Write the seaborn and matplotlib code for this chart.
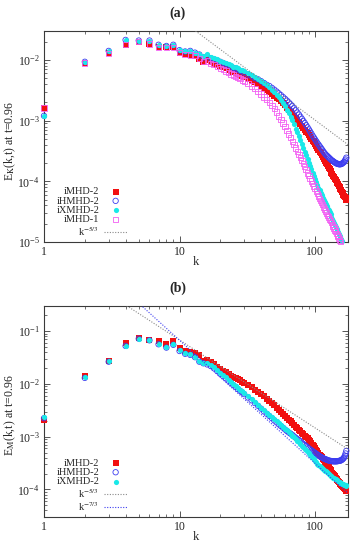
import numpy as np
import pandas as pd
import matplotlib
matplotlib.use("Agg")
import matplotlib.pyplot as plt
from matplotlib.ticker import NullFormatter
import seaborn as sns

# ==========================================
# DATA
# ==========================================
# wavenumbers: every k up to 30, then every 2nd k up to 170
K = list(range(1, 31)) + list(range(32, 171, 2))

# panel (a): kinetic energy spectra E_K(k, t=0.96)
EK_IMHD2 = [1.62e-3, 8.91e-3, 1.29e-2, 1.78e-2, 2.00e-2, 1.82e-2, 1.62e-2, 1.62e-2, 1.62e-2, 1.32e-2,
            1.23e-2, 1.20e-2, 1.18e-2, 1.05e-2, 9.12e-3, 1.00e-2, 9.12e-3, 8.71e-3, 8.32e-3, 7.94e-3,
            7.59e-3, 7.24e-3, 6.92e-3, 6.61e-3, 6.38e-3, 6.17e-3, 5.89e-3, 5.69e-3, 5.50e-3, 5.25e-3,
            4.90e-3, 4.57e-3, 4.27e-3, 3.98e-3, 3.72e-3, 3.39e-3, 3.16e-3, 2.95e-3, 2.75e-3, 2.57e-3,
            2.40e-3, 2.26e-3, 2.11e-3, 1.95e-3, 1.78e-3, 1.62e-3,
            1.48e-3, 1.38e-3, 1.29e-3, 1.19e-3, 1.10e-3, 1.02e-3, 9.55e-4, 8.81e-4, 8.13e-4, 7.59e-4,
            7.08e-4, 6.61e-4, 6.17e-4, 5.75e-4, 5.37e-4, 5.01e-4, 4.68e-4, 4.42e-4, 4.17e-4, 3.89e-4,
            3.59e-4, 3.31e-4, 3.09e-4, 2.88e-4, 2.69e-4, 2.51e-4, 2.34e-4, 2.19e-4, 2.04e-4, 1.91e-4,
            1.78e-4, 1.68e-4, 1.58e-4, 1.48e-4, 1.38e-4, 1.30e-4, 1.23e-4, 1.16e-4, 1.10e-4, 1.04e-4,
            9.77e-5, 9.33e-5, 8.91e-5, 8.41e-5, 7.94e-5, 7.50e-5, 7.08e-5, 6.68e-5, 6.31e-5, 6.03e-5,
            5.75e-5, 5.50e-5, 5.25e-5, 5.01e-5]
EK_IHMHD2 = [1.20e-3, 9.33e-3, 1.41e-2, 2.14e-2, 2.09e-2, 2.09e-2, 1.78e-2, 1.70e-2, 1.78e-2, 1.45e-2,
             1.38e-2, 1.41e-2, 1.32e-2, 1.23e-2, 1.10e-2, 1.15e-2, 1.07e-2, 1.02e-2, 9.77e-3, 9.33e-3,
             8.91e-3, 8.51e-3, 8.13e-3, 7.76e-3, 7.41e-3, 7.24e-3, 6.92e-3, 6.61e-3, 6.46e-3, 6.17e-3,
             5.75e-3, 5.37e-3, 5.01e-3, 4.79e-3, 4.47e-3, 4.17e-3, 3.89e-3, 3.72e-3, 3.47e-3, 3.24e-3,
             3.02e-3, 2.82e-3, 2.63e-3, 2.45e-3, 2.29e-3, 2.14e-3,
             2.00e-3, 1.86e-3, 1.74e-3, 1.60e-3, 1.48e-3, 1.36e-3, 1.26e-3, 1.16e-3, 1.07e-3, 9.89e-4,
             9.12e-4, 8.41e-4, 7.76e-4, 7.16e-4, 6.61e-4, 6.10e-4, 5.62e-4, 5.25e-4, 4.90e-4, 4.57e-4,
             4.27e-4, 4.03e-4, 3.80e-4, 3.59e-4, 3.39e-4, 3.20e-4, 3.02e-4, 2.88e-4, 2.75e-4, 2.66e-4,
             2.57e-4, 2.48e-4, 2.40e-4, 2.32e-4, 2.24e-4, 2.19e-4, 2.14e-4, 2.09e-4, 2.04e-4, 2.00e-4,
             1.97e-4, 1.95e-4, 1.93e-4, 1.91e-4, 1.91e-4, 1.91e-4, 1.93e-4, 1.95e-4, 2.00e-4, 2.04e-4,
             2.09e-4, 2.19e-4, 2.29e-4, 2.45e-4]
EK_IXMHD2 = [1.20e-3, 9.33e-3, 1.41e-2, 2.14e-2, 2.09e-2, 2.09e-2, 1.78e-2, 1.70e-2, 1.78e-2, 1.45e-2,
             1.38e-2, 1.41e-2, 1.32e-2, 1.23e-2, 1.15e-2, 1.23e-2, 1.12e-2, 1.07e-2, 1.02e-2, 9.77e-3,
             9.33e-3, 8.91e-3, 8.51e-3, 8.13e-3, 7.76e-3, 7.59e-3, 7.24e-3, 6.92e-3, 6.76e-3, 6.46e-3,
             6.03e-3, 5.62e-3, 5.25e-3, 4.90e-3, 4.47e-3, 4.17e-3, 3.80e-3, 3.55e-3, 3.24e-3, 2.95e-3,
             2.69e-3, 2.45e-3, 2.19e-3, 1.95e-3, 1.74e-3, 1.51e-3,
             1.32e-3, 1.16e-3, 1.02e-3, 8.71e-4, 7.41e-4, 6.38e-4, 5.50e-4, 4.73e-4, 4.07e-4, 3.55e-4,
             3.09e-4, 2.69e-4, 2.34e-4, 2.04e-4, 1.78e-4, 1.57e-4, 1.38e-4, 1.23e-4, 1.10e-4, 9.77e-5,
             8.71e-5, 7.85e-5, 7.08e-5, 6.46e-5, 5.89e-5, 5.37e-5, 4.90e-5, 4.52e-5, 4.17e-5, 3.85e-5,
             3.55e-5, 3.31e-5, 3.09e-5, 2.85e-5, 2.63e-5, 2.43e-5, 2.24e-5, 2.07e-5, 1.91e-5, 1.78e-5,
             1.66e-5, 1.55e-5, 1.45e-5, 1.35e-5, 1.26e-5, 1.17e-5, 1.10e-5, 1.02e-5, 9.55e-6, 9.02e-6,
             8.51e-6, 8.04e-6, 7.59e-6, 7.24e-6]
EK_IMHD1 = [1.62e-3, 8.91e-3, 1.29e-2, 1.78e-2, 2.00e-2, 1.82e-2, 1.62e-2, 1.62e-2, 1.62e-2, 1.32e-2,
            1.23e-2, 1.20e-2, 1.18e-2, 1.05e-2, 9.33e-3, 9.55e-3, 8.71e-3, 8.32e-3, 7.76e-3, 7.24e-3,
            6.92e-3, 6.61e-3, 6.17e-3, 5.89e-3, 5.62e-3, 5.37e-3, 5.13e-3, 4.90e-3, 4.68e-3, 4.47e-3,
            4.07e-3, 3.72e-3, 3.39e-3, 3.02e-3, 2.75e-3, 2.45e-3, 2.24e-3, 2.00e-3, 1.78e-3, 1.58e-3,
            1.38e-3, 1.20e-3, 1.05e-3, 9.12e-4, 7.94e-4, 6.92e-4,
            6.03e-4, 5.25e-4, 4.57e-4, 4.03e-4, 3.55e-4, 3.13e-4, 2.75e-4, 2.45e-4, 2.19e-4, 1.95e-4,
            1.74e-4, 1.55e-4, 1.38e-4, 1.24e-4, 1.12e-4, 1.01e-4, 9.12e-5, 8.32e-5, 7.59e-5, 6.92e-5,
            6.31e-5, 5.75e-5, 5.25e-5, 4.84e-5, 4.47e-5, 4.12e-5, 3.80e-5, 3.51e-5, 3.24e-5, 2.99e-5,
            2.75e-5, 2.57e-5, 2.40e-5, 2.24e-5, 2.09e-5, 1.95e-5, 1.82e-5, 1.70e-5, 1.58e-5, 1.48e-5,
            1.38e-5, 1.30e-5, 1.23e-5, 1.15e-5, 1.07e-5, 1.01e-5, 9.55e-6, 9.02e-6, 8.51e-6, 8.04e-6,
            7.59e-6, 7.16e-6, 6.76e-6, 6.46e-6]

# panel (b): magnetic energy spectra E_M(k, t=0.96)
EM_IMHD2 = [2.08e-3, 1.44e-2, 2.71e-2, 5.93e-2, 7.38e-2, 6.85e-2, 6.37e-2, 5.64e-2, 6.37e-2, 4.75e-2,
            4.21e-2, 4.10e-2, 3.81e-2, 3.46e-2, 2.71e-2, 2.84e-2, 2.64e-2, 2.40e-2, 2.12e-2, 1.88e-2,
            1.79e-2, 1.66e-2, 1.55e-2, 1.44e-2, 1.37e-2, 1.30e-2, 1.24e-2, 1.18e-2, 1.11e-2, 1.04e-2,
            9.46e-3, 8.59e-3, 7.80e-3, 7.06e-3, 6.41e-3, 5.81e-3, 5.27e-3, 4.78e-3, 4.34e-3, 3.93e-3,
            3.56e-3, 3.23e-3, 2.93e-3, 2.72e-3, 2.47e-3, 2.30e-3,
            2.08e-3, 1.94e-3, 1.80e-3, 1.67e-3, 1.55e-3, 1.44e-3, 1.34e-3, 1.26e-3, 1.19e-3, 1.11e-3,
            1.05e-3, 9.86e-4, 9.29e-4, 8.73e-4, 8.22e-4, 7.64e-4, 7.10e-4, 6.61e-4, 6.14e-4, 5.70e-4,
            5.30e-4, 4.92e-4, 4.57e-4, 4.30e-4, 4.05e-4, 3.80e-4, 3.58e-4, 3.37e-4, 3.17e-4, 2.98e-4,
            2.81e-4, 2.64e-4, 2.48e-4, 2.33e-4, 2.20e-4, 2.07e-4, 1.95e-4, 1.85e-4, 1.76e-4, 1.68e-4,
            1.60e-4, 1.52e-4, 1.45e-4, 1.40e-4, 1.35e-4, 1.28e-4, 1.22e-4, 1.18e-4, 1.14e-4, 1.09e-4,
            1.05e-4, 1.02e-4, 9.79e-5, 9.44e-5]
EM_IHMHD2 = [2.24e-3, 1.30e-2, 2.64e-2, 5.25e-2, 7.21e-2, 6.70e-2, 5.64e-2, 4.88e-2, 5.51e-2, 4.21e-2,
             3.72e-2, 3.55e-2, 3.21e-2, 2.64e-2, 2.46e-2, 2.34e-2, 2.18e-2, 1.97e-2, 1.75e-2, 1.55e-2,
             1.40e-2, 1.27e-2, 1.15e-2, 1.04e-2, 9.46e-3, 8.81e-3, 7.98e-3, 7.41e-3, 6.89e-3, 6.41e-3,
             5.53e-3, 4.90e-3, 4.34e-3, 3.84e-3, 3.40e-3, 3.01e-3, 2.72e-3, 2.47e-3, 2.24e-3, 2.03e-3,
             1.87e-3, 1.71e-3, 1.59e-3, 1.48e-3, 1.37e-3, 1.28e-3,
             1.20e-3, 1.14e-3, 1.08e-3, 1.01e-3, 9.53e-4, 9.06e-4, 8.63e-4, 8.13e-4, 7.64e-4, 7.28e-4,
             6.93e-4, 6.61e-4, 6.28e-4, 5.98e-4, 5.70e-4, 5.50e-4, 5.30e-4, 5.11e-4, 4.92e-4, 4.74e-4,
             4.57e-4, 4.41e-4, 4.25e-4, 4.15e-4, 4.05e-4, 3.95e-4, 3.85e-4, 3.78e-4, 3.72e-4, 3.65e-4,
             3.58e-4, 3.54e-4, 3.49e-4, 3.47e-4, 3.45e-4, 3.43e-4, 3.41e-4, 3.41e-4, 3.41e-4, 3.41e-4,
             3.41e-4, 3.43e-4, 3.45e-4, 3.47e-4, 3.49e-4, 3.53e-4, 3.58e-4, 3.66e-4, 3.76e-4, 3.89e-4,
             4.05e-4, 4.37e-4, 4.80e-4, 5.37e-4]
EM_IXMHD2 = [2.35e-3, 1.33e-2, 2.71e-2, 5.25e-2, 7.21e-2, 6.70e-2, 5.78e-2, 4.99e-2, 5.64e-2, 4.37e-2,
             3.81e-2, 3.63e-2, 3.30e-2, 2.71e-2, 2.52e-2, 2.46e-2, 2.29e-2, 2.07e-2, 1.83e-2, 1.62e-2,
             1.47e-2, 1.33e-2, 1.21e-2, 1.10e-2, 9.95e-3, 9.25e-3, 8.38e-3, 7.80e-3, 7.24e-3, 6.73e-3,
             5.81e-3, 5.14e-3, 4.55e-3, 4.03e-3, 3.56e-3, 3.16e-3, 2.86e-3, 2.59e-3, 2.35e-3, 2.13e-3,
             1.96e-3, 1.80e-3, 1.67e-3, 1.53e-3, 1.41e-3, 1.31e-3,
             1.22e-3, 1.13e-3, 1.05e-3, 9.75e-4, 9.06e-4, 8.41e-4, 7.83e-4, 7.28e-4, 6.76e-4, 6.28e-4,
             5.83e-4, 5.50e-4, 5.16e-4, 4.81e-4, 4.47e-4, 4.21e-4, 3.95e-4, 3.72e-4, 3.50e-4, 3.29e-4,
             3.09e-4, 2.94e-4, 2.81e-4, 2.67e-4, 2.54e-4, 2.45e-4, 2.37e-4, 2.28e-4, 2.20e-4, 2.12e-4,
             2.04e-4, 1.97e-4, 1.90e-4, 1.83e-4, 1.76e-4, 1.72e-4, 1.68e-4, 1.64e-4, 1.60e-4, 1.56e-4,
             1.52e-4, 1.48e-4, 1.45e-4, 1.41e-4, 1.38e-4, 1.35e-4, 1.32e-4, 1.28e-4, 1.25e-4, 1.24e-4,
             1.22e-4, 1.21e-4, 1.19e-4, 1.17e-4]

# reference power laws: amplitude C in C * k**slope
SLOPE_53 = -5.0 / 3.0
SLOPE_73 = -7.0 / 3.0
C53_A = 2.2
C53_B = 3.16
C73_B = 14.5

X_TICKS = [1, 10, 100]
X_TICK_LABELS = ["1", "10", "100"]
XLIM = (1, 175)
YLIM_A = (1e-5, 3e-2)
YLIM_B = (3e-5, 0.3)

# ==========================================
# STYLE
# ==========================================
RED = "#f21010"
BLUE = "#3d3df0"
CYAN = "#19e8e8"
MAGENTA = "#f25ef2"
GREY = "#8a8a8a"
FRAME = "#3a3a3a"
DOTS = (0, (1, 1.4))

sns.set_style("ticks")
plt.rcParams["font.family"] = ["Liberation Serif", "DejaVu Serif"]
plt.rcParams["mathtext.fontset"] = "stix"


def add_points(ax, values, color, marker, filled, label, ymin):
    df = pd.DataFrame({"k": K, "E": values})
    df = df[df["E"] >= ymin]
    if filled:
        sns.scatterplot(data=df, x="k", y="E", ax=ax, color=color, marker=marker,
                        s=14, linewidth=0, label=label, clip_on=False, zorder=3)
    else:
        sns.scatterplot(data=df, x="k", y="E", ax=ax, color=color, marker=marker,
                        facecolor="none", edgecolor=color, s=15, linewidth=0.6,
                        label=label, clip_on=False, zorder=3)


def add_power_law(ax, amp, slope, color, label):
    k_line = np.geomspace(XLIM[0], XLIM[1], 60)
    sns.lineplot(x=k_line, y=amp * k_line ** slope, ax=ax, color=color, linestyle=DOTS,
                 linewidth=0.8, label=label, sort=False, estimator=None, zorder=4)


def style_axes(ax, ylim, ylabel):
    ax.set_xscale("log")
    ax.set_yscale("log")
    ax.set_xlim(*XLIM)
    ax.set_ylim(*ylim)
    ax.set_xticks(X_TICKS, labels=X_TICK_LABELS)
    ax.xaxis.set_minor_formatter(NullFormatter())
    ax.yaxis.set_minor_formatter(NullFormatter())
    ax.tick_params(which="both", direction="in", top=True, right=True,
                   color=FRAME, labelsize=8.5, pad=3)
    ax.tick_params(which="major", length=4, width=0.6)
    ax.tick_params(which="minor", length=2, width=0.5)
    for sp in ax.spines.values():
        sp.set_color(FRAME)
        sp.set_linewidth(0.8)
    ax.set_xlabel("k", fontsize=9)
    ax.set_ylabel(ylabel, fontsize=8.5)
    ax.xaxis.set_label_coords(0.5, -0.065)
    ax.yaxis.set_label_coords(-0.085, 0.48)
    ax.legend(loc="lower right", bbox_to_anchor=(0.275, 0.02), frameon=False,
              markerfirst=False, fontsize=7.5, labelspacing=0.0, handlelength=2.3,
              handletextpad=0.4, borderpad=0, borderaxespad=0, scatterpoints=1)


fig = plt.figure(figsize=(3.53, 5.5), dpi=100)
ax_a = fig.add_axes([44 / 353, 308 / 550, 304 / 353, 211 / 550])
ax_b = fig.add_axes([44 / 353, 33 / 550, 304 / 353, 211 / 550])

# (a) kinetic energy
add_points(ax_a, EK_IMHD2, RED, "s", True, "iMHD-2", YLIM_A[0])
add_points(ax_a, EK_IHMHD2, BLUE, "o", False, "iHMHD-2", YLIM_A[0])
add_points(ax_a, EK_IXMHD2, CYAN, "o", True, "iXMHD-2", YLIM_A[0])
add_points(ax_a, EK_IMHD1, MAGENTA, "s", False, "iMHD-1", YLIM_A[0])
add_power_law(ax_a, C53_A, SLOPE_53, GREY, r"k$^{-5/3}$")
style_axes(ax_a, YLIM_A, r"E$_{\mathrm{K}}$(k,t) at t=0.96")

# (b) magnetic energy
add_points(ax_b, EM_IMHD2, RED, "s", True, "iMHD-2", YLIM_B[0])
add_points(ax_b, EM_IHMHD2, BLUE, "o", False, "iHMHD-2", YLIM_B[0])
add_points(ax_b, EM_IXMHD2, CYAN, "o", True, "iXMHD-2", YLIM_B[0])
add_power_law(ax_b, C53_B, SLOPE_53, GREY, r"k$^{-5/3}$")
add_power_law(ax_b, C73_B, SLOPE_73, BLUE, r"k$^{-7/3}$")
style_axes(ax_b, YLIM_B, r"E$_{\mathrm{M}}$(k,t) at t=0.96")

fig.text(178 / 353, 1 - 13 / 550, "(a)", ha="center", va="center", fontsize=10, weight="bold")
fig.text(178 / 353, 1 - 288 / 550, "(b)", ha="center", va="center", fontsize=10, weight="bold")

fig.savefig("out.png", dpi=100)
plt.close(fig)
